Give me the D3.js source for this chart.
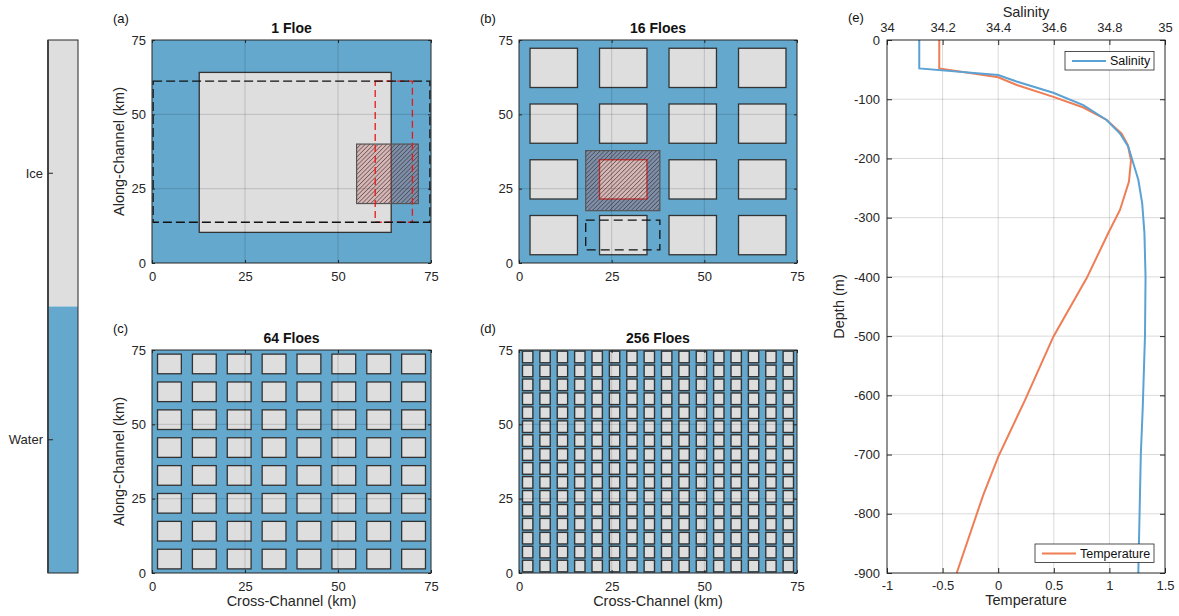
<!DOCTYPE html>
<html>
<head>
<meta charset="utf-8">
<script src="https://cdn.jsdelivr.net/npm/d3@7"></script>
<style>
  body { margin: 0; background: #fff; }
  svg { font-family: "Liberation Sans", Arial, Helvetica, sans-serif; }
</style>
</head>
<body>
<svg id="fig" width="1179" height="616"></svg>
<script>
// ---- data ----
const floeCounts = [1, 16, 64, 256];
const panelTitles = ["1 Floe", "16 Floes", "64 Floes", "256 Floes"];
const panelLetters = ["(a)", "(b)", "(c)", "(d)"];
const floeWidths = [51.6, 12.8, 6.4, 2.8];   // km
const floeHeights = [53.8, 13.2, 6.6, 3.9];  // km
const singleFloeCorner = [12.7, 10.3];       // lower left corner, 1-floe case
const kmTicks = [0, 25, 50, 75];

// boxes [x0, y0, x1, y1] in km
const domainBoxA = [0.3, 13.7, 74.7, 61.2];
const redBoxA = [60, 13.7, 70, 61.2];
const hatchBoxA = [55, 20, 71.6, 40];
const hatchBoxB = [18, 17.6, 38, 37.8];
const dashedBoxB = [18, 4.4, 38, 14.4];
const highlightFloeB = [1, 1]; // column, row

const materials = ["Ice", "Water"];

const tempDepth = [0, -48, -63, -76, -96, -114, -135, -158, -177, -203, -239, -287, -326, -402, -501, -608, -704, -768, -900];
const temperature = [-0.53, -0.53, 0.0, 0.167, 0.496, 0.766, 0.976, 1.11, 1.165, 1.194, 1.176, 1.095, 0.99, 0.796, 0.496, 0.241, 0.0, -0.134, -0.373];
const salDepth = [0, -48, -59, -70, -89, -110, -135, -158, -180, -208, -236, -276, -326, -400, -500, -620, -700, -900];
const salinity = [34.116, 34.116, 34.40, 34.466, 34.598, 34.706, 34.79, 34.838, 34.868, 34.886, 34.904, 34.918, 34.926, 34.93, 34.928, 34.92, 34.913, 34.904];

const tempTicks = [-1, -0.5, 0, 0.5, 1, 1.5];
const salTicks = [34, 34.2, 34.4, 34.6, 34.8, 35];
const depthTicks = [0, -100, -200, -300, -400, -500, -600, -700, -800, -900];

// ---- style ----
const iceColor = "#dedede";
const waterColor = "#64a8ce";
const inkColor = "#262626";
const tempColor = "#ef7d55";
const salColor = "#5aa2d4";
const overlayFill = "rgba(200,80,75,0.28)";

const svg = d3.select("#fig");

// hatch pattern
svg.append("defs").append("pattern")
    .attr("id", "hatch")
    .attr("patternUnits", "userSpaceOnUse")
    .attr("width", 3.05)
    .attr("height", 10)
    .attr("patternTransform", "rotate(45)")
  .append("line")
    .attr("x1", 0).attr("y1", 0).attr("x2", 0).attr("y2", 10)
    .attr("stroke", "#2a2a2a")
    .attr("stroke-width", 1);

function styleAxis(g, size) {
    g.attr("font-size", size).attr("font-family", null).style("color", inkColor);
    g.select(".domain").remove();
    g.selectAll(".tick text").attr("fill", inkColor);
}

function boxRect(g, x, y, b) {
    return g.append("rect")
        .attr("x", x(b[0]))
        .attr("y", y(b[3]))
        .attr("width", x(b[2]) - x(b[0]))
        .attr("height", y(b[1]) - y(b[3]));
}

// ---- panels (a)-(d) ----
const frames = [
    {x0: 152, x1: 431, y0: 40, y1: 263},
    {x0: 519, x1: 797, y0: 40, y1: 263},
    {x0: 152, x1: 431, y0: 350, y1: 573},
    {x0: 519, x1: 797, y0: 350, y1: 573}
];

floeCounts.forEach((n, i) => {
    const p = frames[i];
    const x = d3.scaleLinear().domain([0, 75]).range([p.x0, p.x1]);
    const y = d3.scaleLinear().domain([0, 75]).range([p.y1, p.y0]);
    const g = svg.append("g");

    // water
    g.append("rect")
        .attr("x", p.x0).attr("y", p.y0)
        .attr("width", p.x1 - p.x0).attr("height", p.y1 - p.y0)
        .attr("fill", waterColor);

    // floes
    const w = floeWidths[i], h = floeHeights[i];
    let floes;
    if (n === 1) {
        floes = [{c: 0, r: 0, x0: singleFloeCorner[0], y0: singleFloeCorner[1]}];
    } else {
        const k = Math.sqrt(n), pitch = 75 / k;
        floes = [];
        d3.range(k).forEach(c => d3.range(k).forEach(r => {
            floes.push({c, r, x0: (c + 0.5) * pitch - w / 2, y0: (r + 0.5) * pitch - h / 2});
        }));
    }
    g.selectAll("rect.floe").data(floes).join("rect")
        .attr("class", "floe")
        .attr("x", d => x(d.x0))
        .attr("y", d => y(d.y0 + h))
        .attr("width", d => x(d.x0 + w) - x(d.x0))
        .attr("height", d => y(d.y0) - y(d.y0 + h))
        .attr("fill", iceColor)
        .attr("stroke", d => (i === 1 && d.c === highlightFloeB[0] && d.r === highlightFloeB[1]) ? "#c82020" : "#333")
        .attr("stroke-width", i === 3 ? 1.4 : 1.3);

    if (i === 0) {
        boxRect(g, x, y, hatchBoxA).attr("fill", overlayFill).attr("stroke", "none");
        boxRect(g, x, y, hatchBoxA).attr("fill", "url(#hatch)").attr("stroke", "#555").attr("stroke-width", 1.2);
        boxRect(g, x, y, redBoxA).attr("fill", "none").attr("stroke", "#e81818")
            .attr("stroke-width", 1.3).attr("stroke-dasharray", "7,4");
        boxRect(g, x, y, domainBoxA).attr("fill", "none").attr("stroke", "#111")
            .attr("stroke-width", 1.3).attr("stroke-dasharray", "9,4");
    }
    if (i === 1) {
        boxRect(g, x, y, hatchBoxB).attr("fill", overlayFill).attr("stroke", "none");
        boxRect(g, x, y, hatchBoxB).attr("fill", "url(#hatch)").attr("stroke", "#555").attr("stroke-width", 1.2);
        boxRect(g, x, y, dashedBoxB).attr("fill", "none").attr("stroke", "#111")
            .attr("stroke-width", 1.3).attr("stroke-dasharray", "9,5");
    }

    // grid on top
    const inner = kmTicks.slice(1, -1);
    g.selectAll("line.gx").data(inner).join("line")
        .attr("x1", d => x(d)).attr("x2", d => x(d))
        .attr("y1", p.y0).attr("y2", p.y1)
        .attr("stroke", "#000").attr("stroke-opacity", 0.15);
    g.selectAll("line.gy").data(inner).join("line")
        .attr("y1", d => y(d)).attr("y2", d => y(d))
        .attr("x1", p.x0).attr("x2", p.x1)
        .attr("stroke", "#000").attr("stroke-opacity", 0.15);

    // axes
    g.append("g").attr("transform", `translate(${p.x0},0)`)
        .call(d3.axisLeft(y).tickValues(kmTicks).tickSizeInner(-3).tickSizeOuter(0).tickPadding(6))
        .call(a => styleAxis(a, 13));
    g.append("g").attr("transform", `translate(${p.x1},0)`)
        .call(d3.axisRight(y).tickValues(kmTicks).tickSizeInner(-3).tickSizeOuter(0).tickFormat(""))
        .call(a => styleAxis(a, 13));
    g.append("g").attr("transform", `translate(0,${p.y1})`)
        .call(d3.axisBottom(x).tickValues(kmTicks).tickSizeInner(-3).tickSizeOuter(0).tickPadding(9))
        .call(a => styleAxis(a, 13));
    g.append("g").attr("transform", `translate(0,${p.y0})`)
        .call(d3.axisTop(x).tickValues(kmTicks).tickSizeInner(-3).tickSizeOuter(0).tickFormat(""))
        .call(a => styleAxis(a, 13));

    g.append("rect")
        .attr("x", p.x0).attr("y", p.y0)
        .attr("width", p.x1 - p.x0).attr("height", p.y1 - p.y0)
        .attr("fill", "none").attr("stroke", inkColor).attr("stroke-width", 1);

    // texts
    g.append("text")
        .attr("x", (p.x0 + p.x1) / 2).attr("y", p.y0 - 7)
        .attr("text-anchor", "middle")
        .attr("font-size", 14).attr("font-weight", "bold")
        .attr("fill", "#111")
        .text(panelTitles[i]);
    g.append("text")
        .attr("x", p.x0 - 39).attr("y", p.y0 - 17)
        .attr("font-size", 13).attr("fill", "#111")
        .text(panelLetters[i]);
    if (i % 2 === 0) {
        g.append("text")
            .attr("transform", `translate(${p.x0 - 28},${(p.y0 + p.y1) / 2}) rotate(-90)`)
            .attr("text-anchor", "middle")
            .attr("font-size", 14.5).attr("fill", inkColor)
            .text("Along-Channel (km)");
    }
    if (i >= 2) {
        g.append("text")
            .attr("x", (p.x0 + p.x1) / 2).attr("y", 606)
            .attr("text-anchor", "middle")
            .attr("font-size", 14.5).attr("fill", inkColor)
            .text("Cross-Channel (km)");
    }
});

// ---- colorbar ----
const cb = svg.append("g");
const cbY = d3.scaleBand().domain(materials).range([40, 573]);
const cbColor = d3.scaleOrdinal().domain(materials).range([iceColor, waterColor]);
cb.selectAll("rect.cell").data(materials).join("rect")
    .attr("class", "cell")
    .attr("x", 48).attr("width", 30)
    .attr("y", d => cbY(d)).attr("height", cbY.bandwidth())
    .attr("fill", d => cbColor(d));
cb.append("rect")
    .attr("x", 48).attr("y", 40).attr("width", 30).attr("height", 533)
    .attr("fill", "none").attr("stroke", inkColor).attr("stroke-width", 1);
cb.append("line")
    .attr("x1", 48).attr("x2", 48).attr("y1", 40).attr("y2", 573)
    .attr("stroke", "#444").attr("stroke-width", 2);
cb.selectAll("line.tick").data(materials).join("line")
    .attr("x1", 48).attr("x2", 53)
    .attr("y1", d => cbY(d) + cbY.bandwidth() / 2)
    .attr("y2", d => cbY(d) + cbY.bandwidth() / 2)
    .attr("stroke", inkColor);
cb.selectAll("text").data(materials).join("text")
    .attr("x", 43)
    .attr("y", d => cbY(d) + cbY.bandwidth() / 2)
    .attr("dy", "0.35em")
    .attr("text-anchor", "end")
    .attr("font-size", 13).attr("fill", inkColor)
    .text(d => d);

// ---- panel (e) ----
const pe = {x0: 887, x1: 1165, y0: 40, y1: 573};
const xT = d3.scaleLinear().domain([-1, 1.5]).range([pe.x0, pe.x1]);
const xS = d3.scaleLinear().domain([34, 35]).range([pe.x0, pe.x1]);
const yD = d3.scaleLinear().domain([-900, 0]).range([pe.y1, pe.y0]);
const ge = svg.append("g");

ge.selectAll("line.gx").data(tempTicks.slice(1, -1)).join("line")
    .attr("x1", d => xT(d)).attr("x2", d => xT(d))
    .attr("y1", pe.y0).attr("y2", pe.y1)
    .attr("stroke", "#000").attr("stroke-opacity", 0.15);
ge.selectAll("line.gy").data(depthTicks.slice(1, -1)).join("line")
    .attr("y1", d => yD(d)).attr("y2", d => yD(d))
    .attr("x1", pe.x0).attr("x2", pe.x1)
    .attr("stroke", "#000").attr("stroke-opacity", 0.15);

const tempLine = d3.line().x(d => xT(d[0])).y(d => yD(d[1]));
const salLine = d3.line().x(d => xS(d[0])).y(d => yD(d[1]));
ge.append("path")
    .datum(d3.zip(temperature, tempDepth))
    .attr("d", tempLine)
    .attr("fill", "none").attr("stroke", tempColor).attr("stroke-width", 2);
ge.append("path")
    .datum(d3.zip(salinity, salDepth))
    .attr("d", salLine)
    .attr("fill", "none").attr("stroke", salColor).attr("stroke-width", 2);

const fmt = d => String(d);
ge.append("g").attr("transform", `translate(${pe.x0},0)`)
    .call(d3.axisLeft(yD).tickValues(depthTicks).tickFormat(fmt).tickSizeInner(-5).tickSizeOuter(0).tickPadding(7))
    .call(a => styleAxis(a, 13));
ge.append("g").attr("transform", `translate(${pe.x1},0)`)
    .call(d3.axisRight(yD).tickValues(depthTicks).tickSizeInner(-5).tickSizeOuter(0).tickFormat(""))
    .call(a => styleAxis(a, 13));
ge.append("g").attr("transform", `translate(0,${pe.y1})`)
    .call(d3.axisBottom(xT).tickValues(tempTicks).tickFormat(fmt).tickSizeInner(-5).tickSizeOuter(0).tickPadding(8))
    .call(a => styleAxis(a, 13));
ge.append("g").attr("transform", `translate(0,${pe.y0})`)
    .call(d3.axisTop(xS).tickValues(salTicks).tickFormat(fmt).tickSizeInner(-5).tickSizeOuter(0).tickPadding(8))
    .call(a => styleAxis(a, 13));
ge.append("rect")
    .attr("x", pe.x0).attr("y", pe.y0)
    .attr("width", pe.x1 - pe.x0).attr("height", pe.y1 - pe.y0)
    .attr("fill", "none").attr("stroke", inkColor).attr("stroke-width", 1);

ge.append("text").attr("x", 848).attr("y", 22)
    .attr("font-size", 13).attr("fill", "#111").text("(e)");
ge.append("text").attr("x", (pe.x0 + pe.x1) / 2).attr("y", 17)
    .attr("text-anchor", "middle").attr("font-size", 14.5).attr("fill", inkColor)
    .text("Salinity");
ge.append("text").attr("x", (pe.x0 + pe.x1) / 2).attr("y", 605)
    .attr("text-anchor", "middle").attr("font-size", 14.5).attr("fill", inkColor)
    .text("Temperature");
ge.append("text")
    .attr("transform", `translate(844,${(pe.y0 + pe.y1) / 2}) rotate(-90)`)
    .attr("text-anchor", "middle").attr("font-size", 14.5).attr("fill", inkColor)
    .text("Depth (m)");

// legends
function legend(x0, y0, w, label, color) {
    const lg = ge.append("g").attr("transform", `translate(${x0},${y0})`);
    lg.append("rect").attr("width", w).attr("height", 18.5)
        .attr("fill", "#fff").attr("stroke", inkColor).attr("stroke-width", 0.8);
    lg.append("line").attr("x1", 7).attr("x2", 41).attr("y1", 9.5).attr("y2", 9.5)
        .attr("stroke", color).attr("stroke-width", 2);
    lg.append("text").attr("x", 45).attr("y", 9.5).attr("dy", "0.35em")
        .attr("font-size", 12.5).attr("fill", "#111").text(label);
}
legend(1065, 51.5, 89, "Salinity", salColor);
legend(1035, 544, 119, "Temperature", tempColor);
</script>
</body>
</html>
